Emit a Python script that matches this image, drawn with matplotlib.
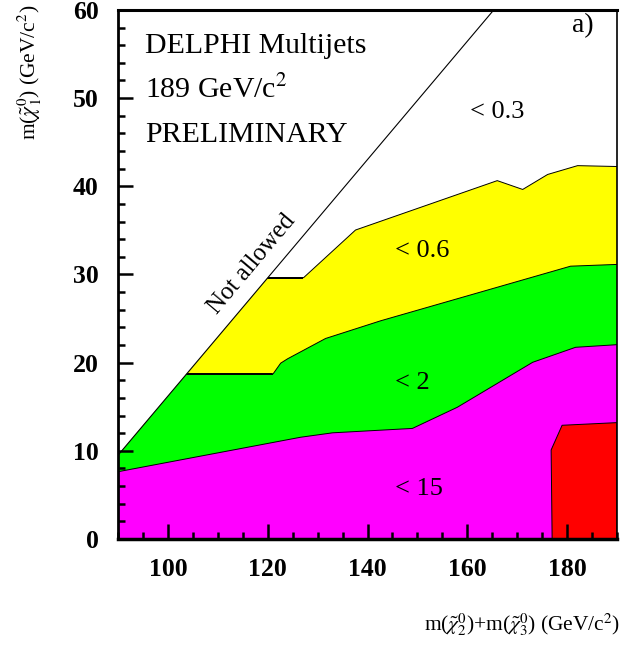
import numpy as np
import matplotlib.pyplot as plt
from matplotlib.patches import Polygon
from matplotlib.ticker import MultipleLocator

plt.rcParams['font.family'] = ['Liberation Serif', 'DejaVu Serif']
plt.rcParams['mathtext.fontset'] = 'stix'

# kinematic limit (line), points at both ends
limit_x = [90, 165.3]
limit_y = [9.5, 60]

# upper edge of each excluded region
yellow_x = [90, 120.9, 127.1, 137.5, 165.9, 171.0, 176.0, 182.0, 190]
yellow_y = [29.7, 29.7, 29.7, 35.1, 40.7, 39.7, 41.4, 42.4, 42.3]

green_x = [90, 104.8, 121.0, 122.5, 123.9, 131.5, 142.5, 180.6, 190]
green_y = [18.8, 18.8, 18.8, 20.0, 20.5, 22.8, 24.8, 31.0, 31.2]

magenta_x = [90, 126.5, 132.9, 148.9, 157.9, 173.0, 181.6, 190]
magenta_y = [7.7, 11.6, 12.1, 12.6, 15.0, 20.1, 21.8, 22.1]

red_x = [177.0, 176.8, 179.0, 190, 190]
red_y = [0, 10.1, 12.9, 13.2, 0]

fig = plt.figure(figsize=(6.23, 6.46), dpi=100)
ax = fig.add_axes([118 / 623, 0.1656, 499 / 623, 0.819])

# clip everything to the allowed region below the line
clip = Polygon([(90, 0), (limit_x[0], limit_y[0]), (limit_x[1], limit_y[1]),
                (190, 60), (190, 0)], closed=True, transform=ax.transData)

for xs, ys, col in [(yellow_x, yellow_y, '#ffff00'),
                    (green_x, green_y, '#00ff00'),
                    (magenta_x, magenta_y, '#ff00ff')]:
    pc = ax.fill_between(xs, 0, ys, facecolor=col, edgecolor='black', lw=0.7)
    pc.set_clip_path(clip)

ax.fill(red_x, red_y, facecolor='#ff0000', edgecolor='black', lw=0.7)
ax.plot(limit_x, limit_y, color='black', lw=0.8)

ax.set_xlim(90, 190)
ax.set_ylim(0, 60)

ax.xaxis.set_major_locator(MultipleLocator(20))
ax.xaxis.set_minor_locator(MultipleLocator(5))
ax.yaxis.set_major_locator(MultipleLocator(10))
ax.yaxis.set_minor_locator(MultipleLocator(2))
ax.tick_params(which='both', direction='in', width=1.8, top=False, right=False)
ax.tick_params(which='major', length=11, labelsize=18.5, pad=14)
ax.tick_params(which='minor', length=5)
ax.set_xticks([100, 120, 140, 160, 180])
for lab in ax.get_xticklabels() + ax.get_yticklabels():
    lab.set_fontweight('bold')

ax.spines['left'].set_linewidth(2.0)
ax.spines['bottom'].set_linewidth(2.5)
ax.spines['top'].set_linewidth(2.2)
ax.spines['right'].set_linewidth(1.2)
for s in ax.spines.values():
    s.set_zorder(5)

# texts
ax.text(95.4, 55.1, 'DELPHI Multijets', fontsize=21.5, va='baseline')
ax.text(95.4, 50.0, '189 GeV/c$^2$', fontsize=21.5, va='baseline')
ax.text(95.4, 45.0, 'PRELIMINARY', fontsize=21.5, va='baseline')
ax.text(181.0, 57.5, 'a)', fontsize=20, va='baseline')
ax.text(160.5, 47.8, '< 0.3', fontsize=19, va='baseline')
ax.text(145.5, 32.0, '< 0.6', fontsize=19, va='baseline')
ax.text(145.5, 17.0, '< 2', fontsize=19, va='baseline')
ax.text(145.5, 5.0, '< 15', fontsize=19, va='baseline')
ax.text(116.8, 31.2, 'Not allowed', fontsize=18, rotation=50,
        ha='center', va='center')

fig.text(30 / 623, 1 - 4 / 646, r'm($\tilde{\chi}_1^0$) (GeV/c$^2$)',
         rotation=90, fontsize=15.5, ha='center', va='top')
fig.text(620 / 623, 1 - 625 / 646,
         r'm($\tilde{\chi}_2^0$)+m($\tilde{\chi}_3^0$) (GeV/c$^2$)',
         fontsize=15.4, ha='right', va='center')

fig.savefig('out.png', dpi=100)
